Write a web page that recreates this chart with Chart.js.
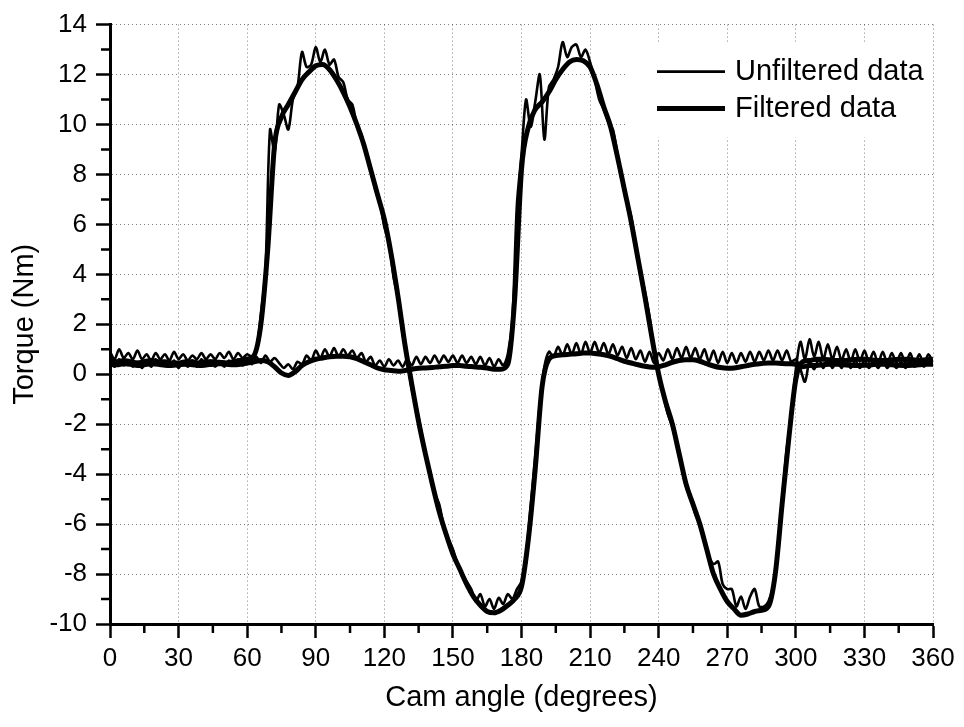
<!DOCTYPE html>
<html>
<head>
<meta charset="utf-8">
<script src="https://cdn.jsdelivr.net/npm/chart.js@4.4.1/dist/chart.umd.min.js"></script>
<style>
  body { margin: 0; background: #fff; }
</style>
</head>
<body>
<canvas id="chart" width="964" height="727"></canvas>
<script>
// angles of the raw (unfiltered) samples, degrees
const anglesRaw = [
    0, 2, 4, 6, 8, 10, 12, 14, 16, 18,
    20, 22, 24, 26, 28, 30, 32, 34, 36, 38,
    40, 42, 44, 46, 48, 50, 52, 54, 56, 58,
    60, 62, 64, 66, 68, 70, 72, 74, 76, 78,
    80, 82, 84, 86, 88, 90, 92, 94, 96, 98,
    100, 102, 104, 106, 108, 110, 112, 114, 116, 118,
    120, 122, 124, 126, 128, 130, 132, 134, 136, 138,
    140, 142, 144, 146, 148, 150, 152, 154, 156, 158,
    160, 162, 164, 166, 168, 170, 172, 174, 176, 178,
    180, 182, 184, 186, 188, 190, 192, 194, 196, 198,
    200, 202, 204, 206, 208, 210, 212, 214, 216, 218,
    220, 222, 224, 226, 228, 230, 232, 234, 236, 238,
    240, 242, 244, 246, 248, 250, 252, 254, 256, 258,
    260, 262, 264, 266, 268, 270, 272, 274, 276, 278,
    280, 282, 284, 286, 288, 290, 292, 294, 296, 298,
    300, 302, 304, 306, 308, 310, 312, 314, 316, 318,
    320, 322, 324, 326, 328, 330, 332, 334, 336, 338,
    340, 342, 344, 346, 348, 350, 352, 354, 356, 358,
    360
]

// angles of the filtered curves
const anglesFilt = [
    0, 3, 6, 9, 12, 15, 18, 21, 24, 27,
    30, 33, 36, 39, 42, 45, 48, 51, 54, 57,
    60, 63, 66, 69, 72, 75, 78, 81, 84, 87,
    90, 93, 96, 99, 102, 105, 108, 111, 114, 117,
    120, 123, 126, 129, 132, 135, 138, 141, 144, 147,
    150, 153, 156, 159, 162, 165, 168, 171, 174, 177,
    180, 183, 186, 189, 192, 195, 198, 201, 204, 207,
    210, 213, 216, 219, 222, 225, 228, 231, 234, 237,
    240, 243, 246, 249, 252, 255, 258, 261, 264, 267,
    270, 273, 276, 279, 282, 285, 288, 291, 294, 297,
    300, 303, 306, 309, 312, 315, 318, 321, 324, 327,
    330, 333, 336, 339, 342, 345, 348, 351, 354, 357,
    360
]

// first cam lobe, unfiltered (Nm)
const rawA = [
    0.9, 0.6, 1.0, 0.65, 0.85, 0.6, 0.95, 0.6, 0.8, 0.55,
    0.85, 0.6, 0.8, 0.55, 0.9, 0.6, 0.8, 0.55, 0.75, 0.6,
    0.85, 0.6, 0.8, 0.6, 0.85, 0.65, 0.9, 0.6, 0.85, 0.65,
    0.8, 0.7, 1.0, 2.4, 4.2, 9.8, 8.9, 10.8, 10.4, 9.8,
    11.0, 11.5, 12.9, 12.3, 12.4, 13.1, 12.5, 13.0, 12.4, 12.6,
    11.9, 11.7, 11.0, 10.8, 10.0, 9.6, 8.8, 8.3, 7.4, 6.9,
    5.9, 5.3, 3.9, 3.0, 1.6, 0.6, -0.6, -1.3, -2.2, -3.2,
    -4.0, -4.8, -5.2, -6.1, -6.6, -7.0, -7.6, -8.0, -8.3, -8.6,
    -9.1, -8.8, -9.3, -9.0, -9.4, -8.95, -9.2, -8.8, -9.0, -8.6,
    -8.3, -7.2, -5.3, -3.3, -1.2, 0.3, 0.9, 0.7, 1.1, 0.75,
    1.2, 0.8, 1.25, 0.8, 1.3, 0.85, 1.3, 0.85, 1.25, 0.8,
    1.2, 0.75, 1.1, 0.65, 1.05, 0.6, 0.95, 0.5, 0.9, 0.45,
    0.85, 0.55, 1.0, 0.6, 1.05, 0.65, 1.1, 0.65, 1.05, 0.6,
    1.0, 0.5, 0.95, 0.45, 0.9, 0.45, 0.85, 0.45, 0.85, 0.5,
    0.9, 0.5, 0.9, 0.55, 0.95, 0.55, 0.95, 0.55, 0.95, 0.5,
    0.6, 0.2, -0.3, 0.5, 0.2, 0.6, 0.25, 0.6, 0.25, 0.55,
    0.25, 0.6, 0.25, 0.55, 0.25, 0.55, 0.25, 0.5, 0.25, 0.55,
    0.25, 0.5, 0.25, 0.5, 0.25, 0.5, 0.3, 0.5, 0.3, 0.55,
    0.35
]

// second cam lobe, unfiltered (Nm)
const rawB = [
    0.5, 0.3, 0.6, 0.35, 0.55, 0.3, 0.5, 0.25, 0.55, 0.3,
    0.6, 0.35, 0.5, 0.3, 0.55, 0.25, 0.5, 0.3, 0.55, 0.3,
    0.6, 0.35, 0.55, 0.3, 0.5, 0.3, 0.55, 0.35, 0.6, 0.35,
    0.65, 0.4, 0.7, 0.45, 0.75, 0.5, 0.65, 0.45, 0.25, 0.4,
    0.2, 0.5, 0.4, 0.75, 0.55, 0.95, 0.65, 1.0, 0.7, 1.05,
    0.7, 1.0, 0.75, 0.95, 0.65, 0.85, 0.5, 0.7, 0.35, 0.55,
    0.3, 0.6, 0.35, 0.55, 0.3, 0.6, 0.35, 0.7, 0.4, 0.7,
    0.45, 0.75, 0.45, 0.75, 0.5, 0.75, 0.45, 0.75, 0.45, 0.7,
    0.4, 0.7, 0.35, 0.65, 0.3, 0.6, 0.35, 0.8, 2.2, 6.8,
    8.8, 11.0, 9.9, 10.9, 12.0, 9.4, 11.5, 11.8, 12.3, 13.3,
    12.7, 13.1, 13.2, 12.7, 13.0, 12.5, 11.8, 11.0, 10.6, 10.1,
    9.8, 8.8, 7.9, 7.0, 6.3, 5.2, 4.2, 3.3, 2.3, 1.0,
    0.1, -0.8, -1.6, -2.1, -2.9, -3.7, -4.5, -4.9, -5.6, -6.0,
    -6.6, -7.3, -7.6, -7.5, -8.4, -8.6, -8.6, -9.3, -8.9, -9.4,
    -8.9, -8.6, -9.3, -9.3, -9.1, -8.5, -7.0, -5.0, -3.0, -1.6,
    0.2, 1.3, 0.6, 1.4, 0.7, 1.3, 0.6, 1.2, 0.6, 1.1,
    0.55, 1.0, 0.5, 1.0, 0.5, 0.95, 0.5, 0.9, 0.45, 0.9,
    0.45, 0.85, 0.45, 0.85, 0.4, 0.85, 0.4, 0.8, 0.4, 0.8,
    0.45
]

// filtered curves (Nm)
const filtA = [
    0.55, 0.5, 0.55, 0.5, 0.45, 0.5, 0.55, 0.5, 0.5, 0.45,
    0.45, 0.5, 0.5, 0.45, 0.5, 0.5, 0.48, 0.45, 0.5, 0.55,
    0.6, 0.75, 2.0, 5.0, 9.2, 10.3, 10.8, 11.3, 11.8, 12.1,
    12.35, 12.4, 12.2, 11.8, 11.3, 10.7, 10.0, 9.2, 8.2, 7.2,
    6.2, 4.8, 3.1, 1.2, -0.4, -1.9, -3.2, -4.4, -5.5, -6.4,
    -7.2, -7.8, -8.4, -8.9, -9.25, -9.5, -9.55, -9.45, -9.25, -9.0,
    -8.5, -6.6, -3.8, -0.5, 0.6, 0.75, 0.78, 0.8, 0.82, 0.85,
    0.85, 0.82, 0.78, 0.72, 0.62, 0.52, 0.45, 0.38, 0.32, 0.28,
    0.3, 0.38, 0.48, 0.55, 0.58, 0.58, 0.52, 0.42, 0.33, 0.27,
    0.24, 0.25, 0.3, 0.35, 0.4, 0.43, 0.45, 0.45, 0.43, 0.42,
    0.4, 0.3, 0.35, 0.35, 0.38, 0.4, 0.4, 0.38, 0.36, 0.35,
    0.36, 0.38, 0.4, 0.4, 0.38, 0.36, 0.35, 0.36, 0.38, 0.4,
    0.4
]

const filtB = [
    0.4, 0.38, 0.42, 0.4, 0.35, 0.38, 0.42, 0.4, 0.36, 0.35,
    0.38, 0.4, 0.38, 0.35, 0.37, 0.4, 0.42, 0.4, 0.38, 0.4,
    0.45, 0.5, 0.55, 0.5, 0.3, 0.05, -0.05, 0.1, 0.35, 0.5,
    0.6, 0.65, 0.7, 0.72, 0.72, 0.7, 0.62, 0.5, 0.38, 0.25,
    0.18, 0.15, 0.12, 0.15, 0.2, 0.24, 0.25, 0.27, 0.3, 0.32,
    0.35, 0.35, 0.32, 0.3, 0.28, 0.25, 0.2, 0.2, 0.4, 3.0,
    8.2, 9.9, 10.6, 10.9, 11.3, 11.8, 12.2, 12.5, 12.6, 12.55,
    12.3, 11.6, 10.7, 9.9, 8.7, 7.4, 6.1, 4.6, 3.1, 1.5,
    0.0, -1.1, -2.0, -3.2, -4.4, -5.2, -6.0, -7.0, -8.0, -8.6,
    -9.1, -9.4, -9.65, -9.6, -9.5, -9.45, -9.3, -8.0, -5.2, -2.5,
    -0.2, 0.5, 0.55, 0.6, 0.6, 0.58, 0.55, 0.55, 0.58, 0.6,
    0.6, 0.58, 0.55, 0.55, 0.58, 0.6, 0.6, 0.58, 0.56, 0.58,
    0.6
]

const legendLabels = ['Unfiltered data', 'Filtered data']

const FONT = "'Liberation Sans', Arial, Helvetica, sans-serif"
const RAW_W = 2.6
const FILT_W = 5

function toPoints(xs, ys) {
    return xs.map((x, i) => ({ x: x, y: ys[i] }))
}

function rawSet(label, xs, ys) {
    return { label: label, data: toPoints(xs, ys), borderColor: '#000', borderWidth: RAW_W, pointRadius: 0, tension: 0.3, fill: false }
}

function filtSet(label, xs, ys) {
    return { label: label, data: toPoints(xs, ys), borderColor: '#000', borderWidth: FILT_W, pointRadius: 0, cubicInterpolationMode: 'monotone', fill: false }
}

// short ticks half way between the labelled ones
const minorTicks = {
    id: 'minorTicks',
    afterDraw(chart) {
        const { ctx, chartArea: a, scales: { x, y } } = chart
        ctx.save()
        ctx.strokeStyle = '#000'
        ctx.lineWidth = 2.5
        ctx.beginPath()
        for (let v = 15; v < 360; v += 30) {
            const px = x.getPixelForValue(v)
            ctx.moveTo(px, a.bottom)
            ctx.lineTo(px, a.bottom + 9)
        }
        for (let v = -9; v < 14; v += 2) {
            const py = y.getPixelForValue(v)
            ctx.moveTo(a.left, py)
            ctx.lineTo(a.left - 9, py)
        }
        ctx.stroke()
        ctx.restore()
    }
}

// legend in the top right corner, on a white patch
const legendBox = {
    id: 'legendBox',
    afterDatasetsDraw(chart) {
        const { ctx, chartArea: a } = chart
        const widths = [RAW_W, FILT_W]
        ctx.save()
        ctx.fillStyle = '#fff'
        ctx.fillRect(a.right - 308, a.top + 18, 308, 95)
        ctx.strokeStyle = '#000'
        ctx.fillStyle = '#000'
        ctx.font = '29px ' + FONT
        ctx.textBaseline = 'middle'
        legendLabels.forEach((txt, i) => {
            const yy = a.top + 47 + i * 37
            ctx.lineWidth = widths[i]
            ctx.beginPath()
            ctx.moveTo(a.right - 276, yy)
            ctx.lineTo(a.right - 208, yy)
            ctx.stroke()
            ctx.fillText(txt, a.right - 198, yy)
        })
        ctx.restore()
    }
}

new Chart(document.getElementById('chart'), {
    type: 'line',
    data: {
        datasets: [
            rawSet(legendLabels[0], anglesRaw, rawA),
            rawSet(legendLabels[0], anglesRaw, rawB),
            filtSet(legendLabels[1], anglesFilt, filtA),
            filtSet(legendLabels[1], anglesFilt, filtB)
        ]
    },
    options: {
        responsive: false,
        animation: false,
        devicePixelRatio: 1,
        layout: { padding: { top: 23, right: 31, left: 0, bottom: 0 } },
        plugins: { legend: { display: false }, tooltip: { enabled: false } },
        scales: {
            x: {
                type: 'linear', min: 0, max: 360,
                ticks: { stepSize: 30, autoSkip: false, maxRotation: 0, color: '#000', padding: 5, font: { family: FONT, size: 26 } },
                grid: { color: 'rgba(0,0,0,0.5)', lineWidth: 1, tickLength: 14, tickColor: '#000', tickWidth: 2.5 },
                border: { color: '#000', width: 3, dash: [1, 3] },
                title: { display: true, text: 'Cam angle (degrees)', color: '#000', font: { family: FONT, size: 29 }, padding: { top: 0, bottom: 12 } },
                afterFit: s => { s.height = 103 }
            },
            y: {
                type: 'linear', min: -10, max: 14,
                ticks: { stepSize: 2, autoSkip: false, color: '#000', padding: 9, font: { family: FONT, size: 26 } },
                grid: { color: 'rgba(0,0,0,0.5)', lineWidth: 1, tickLength: 14, tickColor: '#000', tickWidth: 2.5 },
                border: { color: '#000', width: 3, dash: [1, 3] },
                title: { display: true, text: 'Torque (Nm)', color: '#000', font: { family: FONT, size: 29 }, padding: { top: 8, bottom: 0 } },
                afterFit: s => { s.width = 110 }
            }
        }
    },
    plugins: [minorTicks, legendBox]
})
</script>
</body>
</html>
